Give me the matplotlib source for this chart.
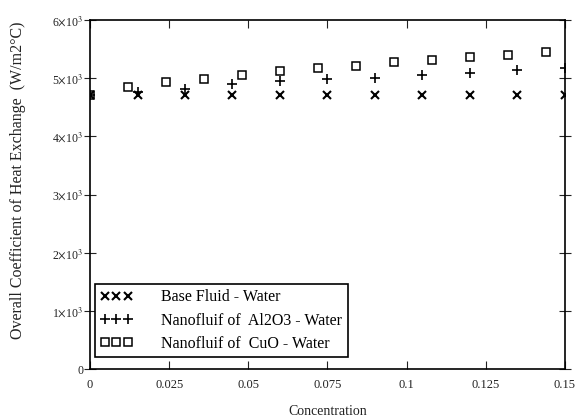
import matplotlib.pyplot as plt
from matplotlib.ticker import FuncFormatter

plt.rcParams['font.family'] = ['Liberation Serif', 'DejaVu Serif']
plt.rcParams['mathtext.fontset'] = 'stix'

# data
conc_base = [0, 0.015, 0.03, 0.045, 0.06, 0.075, 0.09, 0.105, 0.12, 0.135, 0.15]
u_base = [4720, 4720, 4720, 4720, 4720, 4720, 4720, 4720, 4720, 4720, 4720]

conc_al = [0, 0.015, 0.03, 0.045, 0.06, 0.075, 0.09, 0.105, 0.12, 0.135, 0.15]
u_al = [4720, 4760, 4810, 4910, 4955, 4985, 5005, 5050, 5095, 5135, 5180]

conc_cuo = [0, 0.012, 0.024, 0.036, 0.048, 0.06, 0.072, 0.084, 0.096, 0.108, 0.12, 0.132, 0.144]
u_cuo = [4720, 4855, 4935, 4985, 5055, 5125, 5175, 5210, 5275, 5315, 5365, 5405, 5445]

labels = ["Base Fluid - Water", "Nanofluif of  Al2O3 - Water", "Nanofluif of  CuO - Water"]

x_ticks = [0, 0.025, 0.05, 0.075, 0.1, 0.125, 0.15]
x_ticklabels = ["0", "0.025", "0.05", "0.075", "0.1", "0.125", "0.15"]
y_ticks = [0, 1000, 2000, 3000, 4000, 5000, 6000]

fig = plt.figure(figsize=(5.81, 4.19), dpi=100)
ax = fig.add_axes([0.155, 0.119, 0.817, 0.833])

ax.plot(conc_base, u_base, linestyle='none', marker='x', color='black',
        markersize=5.5, markeredgewidth=1.5, label=labels[0])
ax.plot(conc_al, u_al, linestyle='none', marker='+', color='black',
        markersize=6.5, markeredgewidth=1.2, label=labels[1])
ax.plot(conc_cuo, u_cuo, linestyle='none', marker='s', color='black',
        markerfacecolor='none', markersize=5.5, markeredgewidth=1.1,
        label=labels[2])

ax.set_xlim(0, 0.15)
ax.set_ylim(0, 6000)
ax.set_xticks(x_ticks)
ax.set_xticklabels(x_ticklabels)
ax.set_yticks(y_ticks)
ax.yaxis.set_major_formatter(FuncFormatter(
    lambda v, p: "0" if v == 0 else r"%d$\times$10$^3$" % round(v / 1000)))

ax.tick_params(axis='x', direction='in', top=True, length=6, labelsize=9,
               pad=7, colors='#222222')
ax.tick_params(axis='y', direction='inout', right=True, length=8, labelsize=8.5,
               pad=1, colors='#222222')
for s in ax.spines.values():
    s.set_linewidth(1.2)

ax.set_xlabel("Concentration", fontsize=10, color='#222222', labelpad=10)
ax.set_ylabel("Overall Coefficient of Heat Exchange  (W/m2°C)", fontsize=11.5,
              color='#222222')
ax.yaxis.set_label_coords(-0.135, 0.54)

leg = ax.legend(loc='lower left', numpoints=3, fontsize=11.5, frameon=True,
                fancybox=False, edgecolor='black', framealpha=1,
                borderaxespad=0.3, handlelength=2.0, handletextpad=1.8,
                labelspacing=0.45, borderpad=0.35, bbox_to_anchor=(0.0, 0.02))
leg.get_frame().set_linewidth(1.2)

fig.savefig("out.png", dpi=100)
